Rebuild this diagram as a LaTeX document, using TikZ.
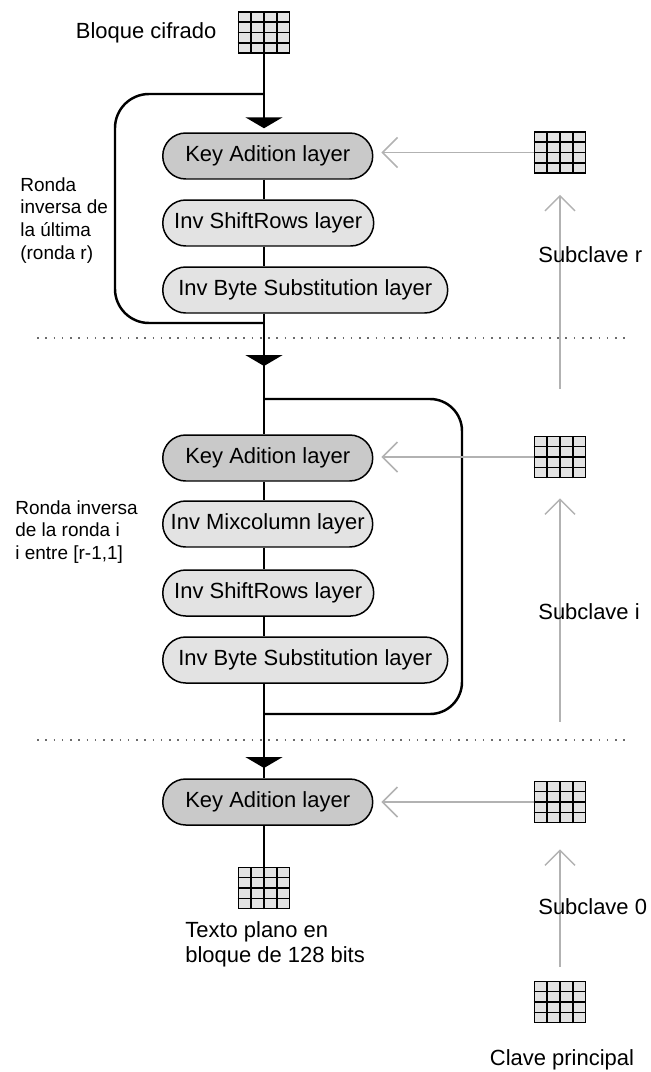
\documentclass[tikz,border=0pt]{standalone}
\usepackage{fontspec}
\setmainfont{Liberation Sans}
\usetikzlibrary{positioning,calc,arrows.meta}

% 4x4 block of bytes
\newcommand\bloque[2]{%
  \node[rejilla] (#1) at (#2) {};
  \foreach \idx in {1,2,3} {
    \draw[rejilla linea] ($(#1.south west)!{\idx/4}!(#1.south east)$) -- ($(#1.north west)!{\idx/4}!(#1.north east)$);
    \draw[rejilla linea] ($(#1.south west)!{\idx/4}!(#1.north west)$) -- ($(#1.south east)!{\idx/4}!(#1.north east)$);
  }}

\tikzset{
  capa/.style={draw, line width=0.85pt, rounded corners=0.46cm, minimum height=0.92cm,
    fill=gray!22, anchor=west, inner sep=0pt},
  clave/.style={capa, fill=gray!42},
  rejilla/.style={draw, line width=0.9pt, fill=gray!22, minimum width=1.02cm,
    minimum height=0.82cm, inner sep=0pt},
  rejilla linea/.style={line width=0.9pt},
  flujo/.style={line width=1.4pt},
  punta/.style={-{Triangle[width=0.74cm,length=0.22cm]}},
  gris/.style={draw=gray!60, line width=0.85pt, -{Straight Barb[width=0.6cm,length=0.3cm]}},
  separador/.style={gray!85!black, line width=0.9pt, dash pattern=on 0.9pt off 3.8pt},
  etiqueta/.style={inner sep=0pt, align=left, anchor=west}
}

\begin{document}
\begin{tikzpicture}[x=0.02cm, y=-0.02cm, font=\fontsize{12.5}{14.2}\selectfont]
    \useasboundingbox (0,0) rectangle (650,1072);
    \coordinate (eje) at (264,0);

    % draw layers
    \node[clave, minimum width=4.2cm]  (ka1) at (162,156) {Key Adition layer};
    \node[capa,  minimum width=4.22cm] (sr1) at (162,223) {Inv ShiftRows layer};
    \node[capa,  minimum width=5.7cm]  (bs1) at (162,290) {Inv Byte Substitution layer};

    \node[clave, minimum width=4.2cm]  (ka2) at (162,458) {Key Adition layer};
    \node[capa,  minimum width=4.2cm]  (mc2) at (162,524) {Inv Mixcolumn layer};
    \node[capa,  minimum width=4.22cm] (sr2) at (162,593) {Inv ShiftRows layer};
    \node[capa,  minimum width=5.7cm]  (bs2) at (162,660) {Inv Byte Substitution layer};

    \node[clave, minimum width=4.2cm]  (ka3) at (162,802) {Key Adition layer};

    % draw blocks
    \bloque{bc}{264,32.5}
    \bloque{tp}{264,888}
    \bloque{kr}{560,152.5}
    \bloque{ki}{560,457}
    \bloque{k0}{560,802}
    \bloque{kp}{560,1002}

    % draw main line
    \draw[flujo, punta, shorten >=0.08cm] (bc.south) -- (ka1.north -| eje);
    \draw[flujo] (ka1.south -| eje) -- (sr1.north -| eje);
    \draw[flujo] (sr1.south -| eje) -- (bs1.north -| eje);
    \coordinate (p2) at (264,366);
    \draw[flujo] (bs1.south -| eje) -- (ka2.north -| eje);
    \draw[flujo, punta] (bs1.south -| eje) -- (p2);
    \draw[flujo] (ka2.south -| eje) -- (mc2.north -| eje);
    \draw[flujo] (mc2.south -| eje) -- (sr2.north -| eje);
    \draw[flujo] (sr2.south -| eje) -- (bs2.north -| eje);
    \coordinate (p3) at (264,768);
    \draw[flujo] (bs2.south -| eje) -- (ka3.north -| eje);
    \draw[flujo, punta] (bs2.south -| eje) -- (p3);
    \draw[flujo] (ka3.south -| eje) -- (tp.north);

    % draw round loops
    \coordinate (r1a) at (264,94);
    \coordinate (r1b) at (264,323);
    \draw[flujo, rounded corners=0.68cm] (r1a) -| (115,323) -- (r1b);
    \coordinate (r2a) at (264,399);
    \coordinate (r2b) at (264,714);
    \draw[flujo, rounded corners=0.64cm] (r2a) -| (462,714) -- (r2b);

    % draw separators
    \draw[separador] (37,338) -- (630,338);
    \draw[separador] (37,740) -- (630,740);

    % draw subkeys
    \draw[gris, shorten >=0.16cm] (kr.west) -- (kr.west -| ka1.east);
    \draw[gris, shorten >=0.16cm] (ki.west) -- (ki.west -| ka2.east);
    \draw[gris, shorten >=0.16cm] (k0.west) -- (k0.west -| ka3.east);
    \draw[gris, shorten <=0.94cm, shorten >=0.42cm] (ki.north) -- (kr.south);
    \draw[gris, shorten <=1.18cm, shorten >=0.4cm] (k0.north) -- (ki.south);
    \draw[gris, shorten <=0.28cm, shorten >=0.52cm] (kp.north) -- (k0.south);

    % draw labels
    \node[left=0.42cm of bc, inner sep=0pt] (lbc) {Bloque cifrado};
    \node[etiqueta] (ltp) at (185,944) {Texto plano en\\bloque de 128 bits};
    \node[etiqueta] (lsr) at (538,255) {Subclave r};
    \node[etiqueta] (lsi) at (538,612) {Subclave i};
    \node[etiqueta] (ls0) at (538,907) {Subclave 0};
    \node[inner sep=0pt] (lkp) at (562,1060) {Clave principal};
    \node[etiqueta, font=\fontsize{10.8}{13}\selectfont] (lr1) at (20,220.5)
      {Ronda\\inversa de\\la última\\(ronda r)};
    \node[etiqueta, font=\fontsize{10.8}{13}\selectfont] (lr2) at (15,532)
      {Ronda inversa\\de la ronda i\\i entre [r-1,1]};
\end{tikzpicture}
\end{document}
